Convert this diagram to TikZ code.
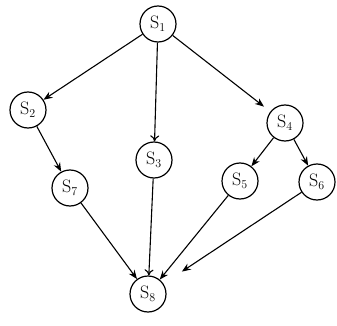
\documentclass[tikz,border=0pt]{standalone}
\usetikzlibrary{arrows.meta}
\begin{document}
\begin{tikzpicture}[x=1pt,y=-1pt,
  state/.style={draw,circle,line width=1.2pt,minimum size=36pt,inner sep=0pt,font=\fontsize{18}{18}\selectfont},
  edge/.style={-{Stealth[length=9pt,width=7pt]},line width=1.1pt},
  openedge/.style={-{To[length=6pt,width=9pt]},line width=1.1pt}]
\useasboundingbox (0,0) rectangle (337,326);
\node[state] (s1) at (158,24) {S$_1$};
\node[state] (s2) at (28,110) {S$_2$};
\node[state] (s7) at (70,188) {S$_7$};
\node[state] (s3) at (154,160) {S$_3$};
\node[state] (s4) at (285,123) {S$_4$};
\node[state] (s5) at (240,181) {S$_5$};
\node[state] (s6) at (317,182) {S$_6$};
\node[state] (s8) at (148,294) {S$_8$};
\draw[edge] (s1) -- (s2);
\draw[openedge] (s1) -- (s3);
\draw[edge,shorten >=8pt] (s1) -- (s4);
\draw[edge] (s2) -- (s7);
\draw[edge] (s4) -- (s5);
\draw[edge] (s4) -- (s6);
\draw[edge] (s7) -- (s8);
\draw[openedge] (s3) -- (s8);
\draw[edge] (s5) -- (s8);
\draw[edge,shorten >=22pt] (s6) -- (s8);
\end{tikzpicture}
\end{document}
